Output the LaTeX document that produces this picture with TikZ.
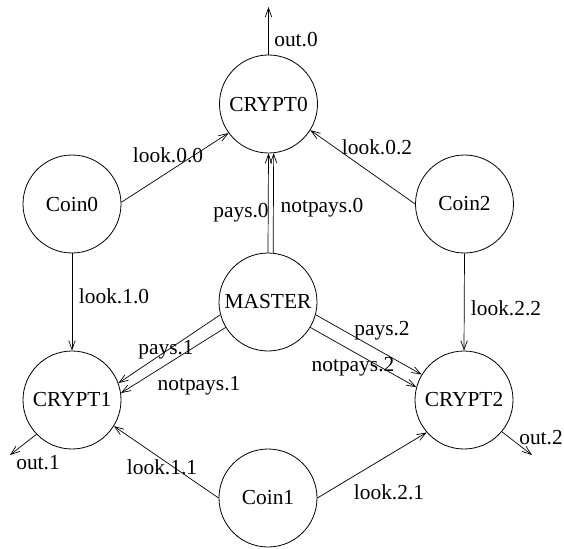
\documentclass[tikz,border=0pt]{standalone}
\usepackage{fontspec}
\setmainfont{Liberation Serif}
\usetikzlibrary{arrows.meta}
\begin{document}
\begin{tikzpicture}[x=1pt,y=-1pt,
  every node/.style={font=\fontsize{21.4}{24}\selectfont},
  state/.style={circle,draw,line width=0.8pt,minimum size=98pt,inner sep=0pt},
  lbl/.style={anchor=base,inner sep=0pt},
  conn/.style={line width=0.7pt,-{Straight Barb[length=9pt,width=6.5pt,line width=0.7pt]}}]
\useasboundingbox (0,0) rectangle (564,548);
% states
\node[state] (C0) at (268.5,104) {CRYPT0};
\node[state] (M)  at (268,302) {MASTER};
\node[state] (C1) at (72,400) {CRYPT1};
\node[state] (C2) at (464,400) {CRYPT2};
\node[state] (K0) at (72,204) {Coin0};
\node[state] (K2) at (464.5,204) {Coin2};
\node[state] (K1) at (268,498) {Coin1};
% free ends
\coordinate (o0) at (268.5,7);
\coordinate (o1) at (10,455);
\coordinate (o2) at (532,455);
% connectors
\draw[conn] (C0.north) -- (o0);
\draw[conn] (C1.224) -- (o1);
\draw[conn] (C2.-40) -- (o2);
\draw[conn] (K0.2) -- (C0.216);
\draw[conn] (K2.180) -- (C0.-32);
\draw[conn] (K0.south) -- (C1.north);
\draw[conn] (K2.south) -- (C2.north);
\draw[conn] (K1.180) -- (C1.-32);
\draw[conn] (K1.0) -- (C2.221);
\draw[conn] (M.90) -- (C0.270);
\draw[conn] (M.84) -- (C0.276);
\draw[conn] (M.195) -- (C1.20);
\draw[conn] (M.211) -- (C1.8);
\draw[conn] (M.-15.5) -- (C2.149);
\draw[conn] (M.-31) -- (C2.165.5);
% labels
\node[lbl] (l1) at (296,47) {out.0};
\node[lbl] (l2) at (168,162) {look.0.0};
\node[lbl] (l3) at (377,155) {look.0.2};
\node[lbl] (l4) at (241,217) {pays.0};
\node[lbl] (l5) at (322,212) {notpays.0};
\node[lbl] (l6) at (114,303) {look.1.0};
\node[lbl] (l7) at (506,315) {look.2.2};
\node[lbl] (l8) at (166,354) {pays.1};
\node[lbl] (l9) at (199,390) {notpays.1};
\node[lbl] (l10) at (382,335) {pays.2};
\node[lbl] (l11) at (353,371) {notpays.2};
\node[lbl] (l12) at (38,469) {out.1};
\node[lbl] (l13) at (541,444) {out.2};
\node[lbl] (l14) at (162,474) {look.1.1};
\node[lbl] (l15) at (389,499) {look.2.1};
\end{tikzpicture}
\end{document}
